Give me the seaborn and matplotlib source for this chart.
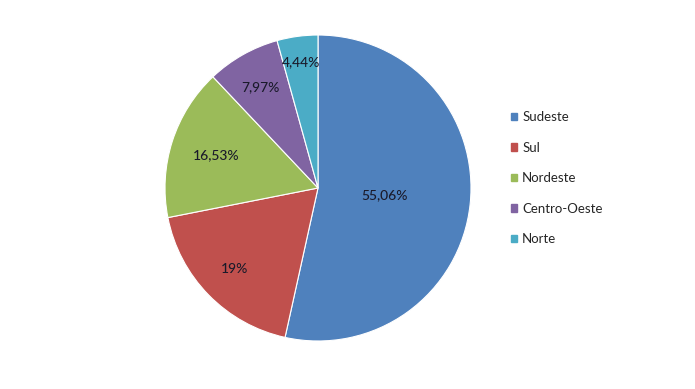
import matplotlib
matplotlib.use("Agg")
import matplotlib.pyplot as plt
import matplotlib.patches as mpatches
import numpy as np
import seaborn as sns

# Dados (regiões do Brasil)
regioes = ["Sudeste", "Sul", "Nordeste", "Centro-Oeste", "Norte"]
valores = [55.06, 19, 16.53, 7.97, 4.44]
rotulos = ["55,06%", "19%", "16,53%", "7,97%", "4,44%"]
cores = ["#4F81BD", "#C0504D", "#9BBB59", "#8064A2", "#4BACC6"]

sns.set_theme(style="white")
plt.rcParams['font.family'] = ['Lato', 'DejaVu Sans']
paleta = sns.color_palette(cores)

fig = plt.figure(figsize=(6.95, 3.89), dpi=100)
ax = fig.add_axes([0.2374, 0.1234, 0.4403, 0.7866])

wedges, _ = ax.pie(valores, colors=paleta, startangle=90, counterclock=False,
                   radius=1, wedgeprops=dict(edgecolor="white", linewidth=0.8))
ax.set_xlim(-1, 1)
ax.set_ylim(-1, 1)
ax.set_aspect("equal")

# posição dos rótulos dentro das fatias (fração do raio)
dist = [0.44, 0.76, 0.70, 0.76, 0.83]
for w, txt, d in zip(wedges, rotulos, dist):
    ang = np.deg2rad((w.theta1 + w.theta2) / 2)
    ax.text(d * np.cos(ang), d * np.sin(ang), txt, ha="center", va="center",
            fontsize=10, color="#1a1a2a", fontweight="medium")

handles = [mpatches.Patch(color=c, label=r) for c, r in zip(paleta, regioes)]
fig.legend(handles=handles, loc="center left", bbox_to_anchor=(0.735, 0.542),
           frameon=False, fontsize=9.5, handlelength=0.5, handleheight=0.5,
           handletextpad=0.35, labelspacing=1.4, borderpad=0, borderaxespad=0)

plt.savefig("out.png", dpi=100, facecolor="white")
